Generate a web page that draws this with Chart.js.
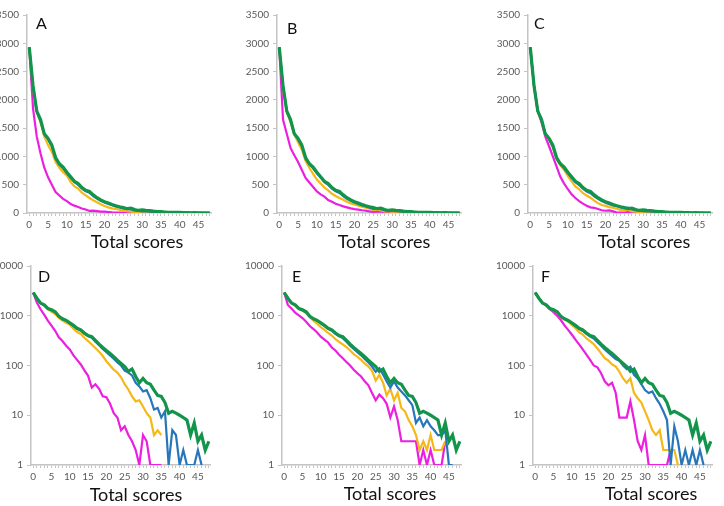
<!DOCTYPE html>
<html>
<head>
<meta charset="utf-8">
<script src="https://cdn.jsdelivr.net/npm/chart.js@4.4.1/dist/chart.umd.min.js"></script>
<style>
  body { margin:0; width:724px; height:506px; position:relative; overflow:hidden; background:#fff; font-family:Lato, sans-serif; }
  canvas { position:absolute; }
  .letter { position:absolute; font-size:16px; line-height:16px; color:#111; }
  .xtitle { position:absolute; font-size:18px; line-height:18px; color:#111; transform:translateX(-50%); white-space:nowrap; }
</style>
</head>
<body>
<script>
// categories (total score) and axis tick labels
const scores = [0,1,2,3,4,5,6,7,8,9,10,11,12,13,14,15,16,17,18,19,20,21,22,23,24,25,26,27,28,29,30,31,32,33,34,35,36,37,38,39,40,41,42,43,44,45,46,47,48];
const yTicksLinear = [0,500,1000,1500,2000,2500,3000,3500];
const yTicksLog = [1,10,100,1000,10000];

// green series, same in every panel
const totalGreen = [2930,2250,1800,1650,1400,1320,1200,980,870,810,720,640,560,520,450,400,380,320,270,230,200,175,150,128,110,95,76,85,60,45,55,45,42,32,25,24,18,11,12,11,10,9,8,4,7,3,4,2,3];

// panels A / D
const adBlue    = [2930,2240,1790,1630,1390,1300,1180,960,850,790,700,620,545,500,430,385,360,300,255,215,185,160,137,115,100,79,72,63,45,38,30,32,22,13,14,9,12,1,5,4,1,2,1,1,1,2,1,null,null];
const adYellow  = [2930,2200,1780,1600,1350,1200,1080,900,800,720,660,550,470,430,360,310,265,225,190,155,122,100,82,72,58,42,33,24,19,20,15,11,9,4,5,4,null,null,null,null,null,null,null,null,null,null,null,null,null];
const adMagenta = [2930,1850,1350,1050,800,630,500,370,310,250,210,160,130,105,80,62,36,42,34,24,23,17,11,9,5,6,4,3,2,1,4,3,1,1,1,1,null,null,null,null,null,null,null,null,null,null,null,null,null];

// panels B / E
const beBlue    = [2930,2250,1800,1640,1400,1300,1180,960,860,790,700,625,545,500,430,385,355,300,250,215,185,160,135,115,95,75,88,66,48,36,48,36,30,25,20,16,7,9,6,8,6,5,4,4,5,1,1,null,null];
const beYellow  = [2930,2200,1790,1600,1380,1250,1120,920,800,690,590,520,450,400,340,300,265,235,200,170,150,130,110,95,78,50,65,45,25,34,20,28,14,12,8,6,4,2,3,2,4,2,2,2,3,null,null,null,null];
const beMagenta = [2930,1650,1400,1150,1020,900,760,620,540,460,380,330,290,230,200,165,140,118,100,82,70,60,48,40,28,20,26,22,17,9,15,8,3,3,3,3,3,1,2,1,2,1,1,1,3,null,null,null,null];

// panels C / F
const cfBlue    = [2930,2250,1800,1640,1400,1300,1180,960,860,790,700,620,545,495,430,380,350,295,250,210,180,155,135,125,100,85,95,65,55,42,32,28,30,22,17,12,8,1,6,3,1,2,1,2,1,2,1,null,null];
const cfYellow  = [2930,2250,1800,1640,1400,1290,1160,950,840,760,650,560,470,420,350,310,270,220,175,140,125,105,95,75,55,45,55,28,22,18,12,8,5,4,5,2,2,2,2,1,null,null,null,null,null,null,null,null,null];
const cfMagenta = [2930,2250,1800,1600,1350,1180,1000,820,640,520,420,330,265,210,165,130,100,92,70,48,40,45,28,9,9,9,19,8,3,2,4,1,1,1,1,1,1,2,null,null,null,null,null,null,null,null,null,null,null];

const GREEN = '#12944a', BLUE = '#2676bb', YELLOW = '#f6b817', MAGENTA = '#ec1fe0';
const AXIS = '#c4c4c4', TICKTEXT = '#595959';

// page layout: plot box (left, right, top, bottom), letter spot, title centre
const panels = [
  {letter:'A', log:false, l:27,  r:211, t:15,  b:213, lx:36,  ly:15,  tx:137, ty:232, blue:adBlue, yellow:adYellow, magenta:adMagenta},
  {letter:'B', log:false, l:277, r:461, t:15,  b:213, lx:287, ly:20,  tx:384, ty:232, blue:beBlue, yellow:beYellow, magenta:beMagenta},
  {letter:'C', log:false, l:528, r:712, t:15,  b:213, lx:534, ly:15,  tx:644, ty:232, blue:cfBlue, yellow:cfYellow, magenta:cfMagenta},
  {letter:'D', log:true,  l:31,  r:210, t:266, b:465, lx:38,  ly:268, tx:136, ty:485, blue:adBlue, yellow:adYellow, magenta:adMagenta},
  {letter:'E', log:true,  l:282, r:461, t:266, b:465, lx:292, ly:268, tx:390, ty:484, blue:beBlue, yellow:beYellow, magenta:beMagenta},
  {letter:'F', log:true,  l:533, r:712, t:266, b:465, lx:541, ly:268, tx:651, ty:484, blue:cfBlue, yellow:cfYellow, magenta:cfMagenta}
];

function line(data, color, width) {
  return { data: data, borderColor: color, borderWidth: width, pointRadius: 0, tension: 0, fill: false, spanGaps: false };
}

function makePanel(p) {
  const W = 44, H = 30, padT = 10, padR = 8;
  const cw = p.r - p.l + W + padR, ch = p.b - p.t + padT + H;
  const cv = document.createElement('canvas');
  cv.width = cw; cv.height = ch;
  cv.style.width = cw + 'px'; cv.style.height = ch + 'px';
  cv.style.left = (p.l - W) + 'px'; cv.style.top = (p.t - padT) + 'px';
  document.body.appendChild(cv);

  const yTicks = p.log ? yTicksLog : yTicksLinear;
  new Chart(cv, {
    type: 'line',
    data: {
      labels: scores,
      datasets: [                                   // first one is drawn on top
        line(totalGreen, GREEN, 3.2),
        line(p.blue, BLUE, 2.2),
        line(p.yellow, YELLOW, 2.2),
        line(p.magenta, MAGENTA, 2.2)
      ]
    },
    options: {
      responsive: false,
      animation: false,
      devicePixelRatio: 1,
      layout: { padding: { top: padT, right: padR, left: 0, bottom: 0 } },
      plugins: { legend: { display: false }, tooltip: { enabled: false } },
      scales: {
        x: {
          type: 'linear', min: -0.6, max: 48.3,
          afterBuildTicks: a => { a.ticks = scores.map(v => ({ value: v })); },
          afterFit: s => { s.height = H; },
          grid: { drawOnChartArea: false, tickLength: 3, color: AXIS },
          border: { color: AXIS, width: 1.5 },
          ticks: {
            autoSkip: false, maxRotation: 0, minRotation: 0, padding: 3,
            color: TICKTEXT, font: { family: 'Lato', size: 10 },
            callback: v => (v % 5 === 0 && v <= 45) ? String(v) : ''
          }
        },
        y: {
          type: p.log ? 'logarithmic' : 'linear',
          min: yTicks[0], max: yTicks[yTicks.length - 1],
          afterBuildTicks: a => { a.ticks = yTicks.map(v => ({ value: v })); },
          afterFit: s => { s.width = W; },
          grid: { drawOnChartArea: false, tickLength: 4, color: AXIS },
          border: { color: AXIS, width: 1.5 },
          ticks: { padding: 4, color: TICKTEXT, font: { family: 'Lato', size: 10 }, callback: v => String(v) }
        }
      }
    }
  });

  const letter = document.createElement('div');
  letter.className = 'letter';
  letter.textContent = p.letter;
  letter.style.left = p.lx + 'px'; letter.style.top = p.ly + 'px';
  document.body.appendChild(letter);

  const title = document.createElement('div');
  title.className = 'xtitle';
  title.textContent = 'Total scores';
  title.style.left = p.tx + 'px'; title.style.top = p.ty + 'px';
  document.body.appendChild(title);
}

panels.forEach(makePanel);
</script>
</body>
</html>
